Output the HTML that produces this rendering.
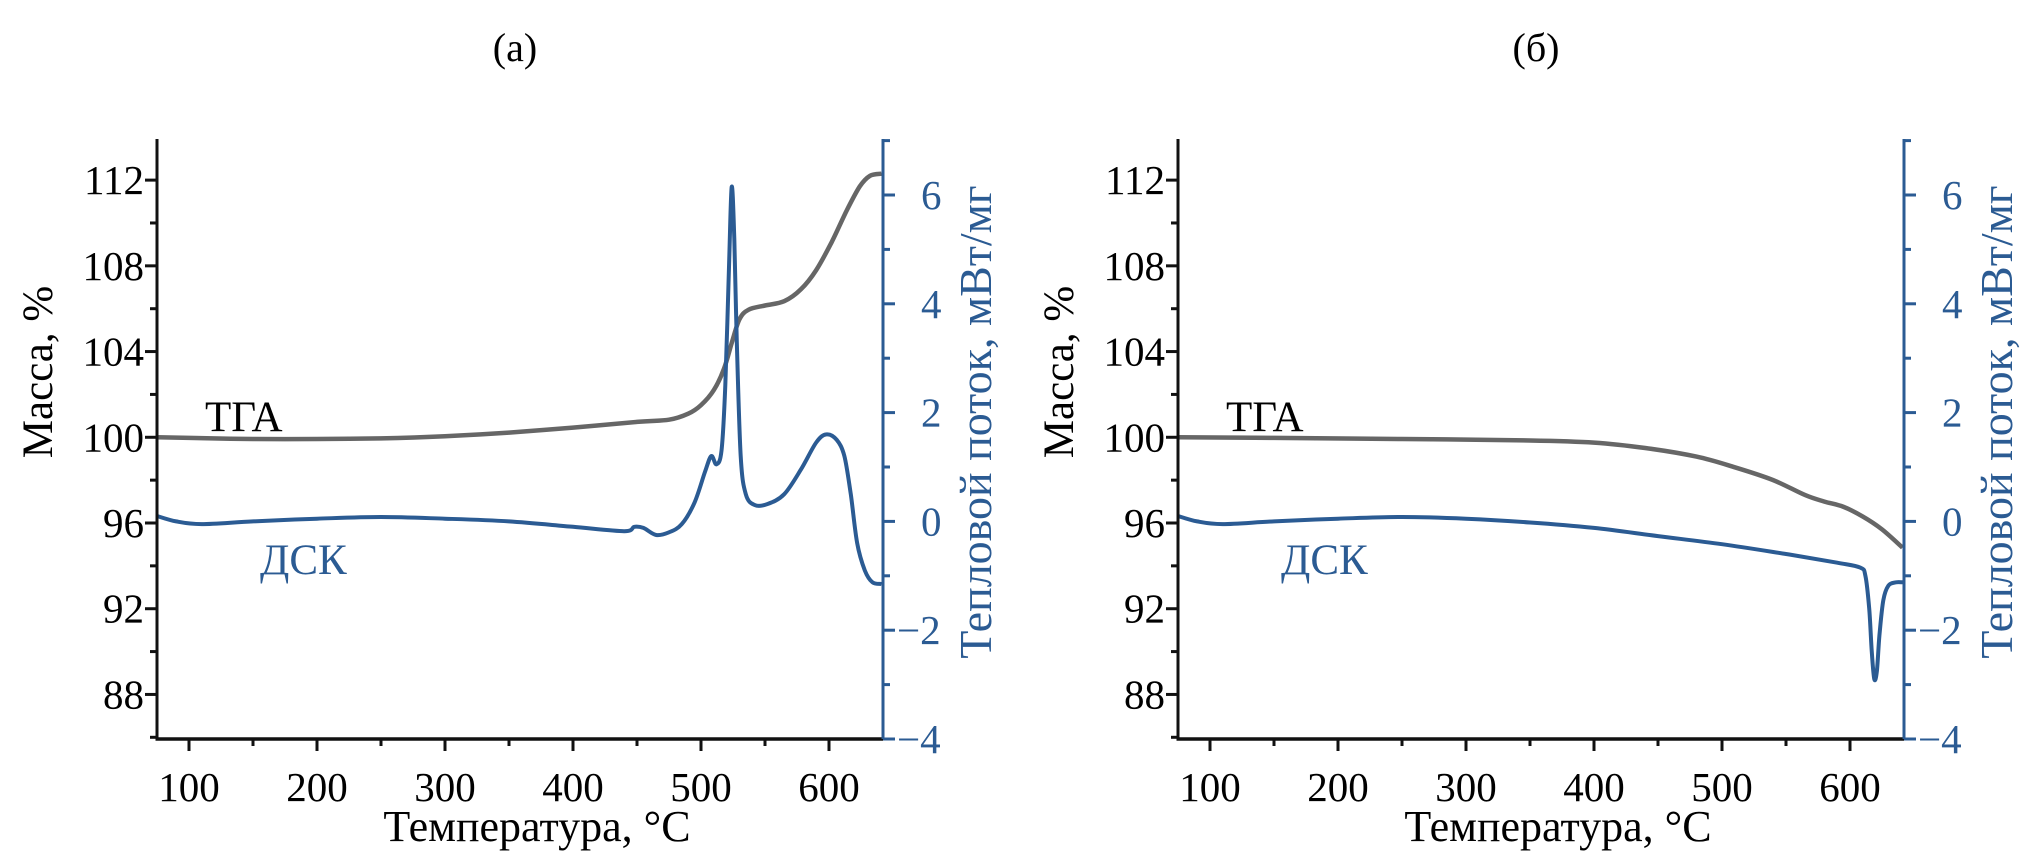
<!DOCTYPE html>
<html><head><meta charset="utf-8">
<style>
html,body{margin:0;padding:0;background:#fff;}
svg{display:block;}
text{font-family:"Liberation Serif",serif;}
</style></head>
<body>
<svg id="s" width="2044" height="863" xmlns="http://www.w3.org/2000/svg"></svg>
<script>
const S=document.getElementById('s');
const NS='http://www.w3.org/2000/svg';
const BLUE='#2b5b93', GRAY='#666666';
function el(t,a,txt){const e=document.createElementNS(NS,t);for(const k in a)e.setAttribute(k,a[k]);if(txt!==undefined)e.textContent=txt;S.appendChild(e);return e;}
function line(x1,y1,x2,y2,c,w){el('line',{x1,y1,x2,y2,stroke:c,'stroke-width':w});}
function smooth(pts){let d='M'+pts[0][0].toFixed(1)+','+pts[0][1].toFixed(1);
 for(let i=0;i<pts.length-1;i++){const p0=pts[i-1]||pts[i],p1=pts[i],p2=pts[i+1],p3=pts[i+2]||p2;
  const c1=[p1[0]+(p2[0]-p0[0])/6,p1[1]+(p2[1]-p0[1])/6],c2=[p2[0]-(p3[0]-p1[0])/6,p2[1]-(p3[1]-p1[1])/6];
  d+=' C'+c1.map(v=>v.toFixed(1))+' '+c2.map(v=>v.toFixed(1))+' '+p2[0].toFixed(1)+','+p2[1].toFixed(1);}
 return d;}
function panel(ox,title,tga,dsc){
 const X0=157+ox, X1=883+ox, YB=739, YT=139;
 const fx=T=>X0+(T-75)*1.28, fy=v=>523-(v-96)*21.43, fd=d=>YB-(d+4)*54.4;
 el('text',{x:(X0+X1)/2-5,y:61,'font-size':40,'text-anchor':'middle'},title);
 el('path',{d:smooth(tga.map(p=>[fx(p[0]),fy(p[1])])),fill:'none',stroke:GRAY,'stroke-width':4.5});
 el('path',{d:smooth(dsc.map(p=>[fx(p[0]),fd(p[1])])),fill:'none',stroke:BLUE,'stroke-width':4});
 line(X0,YT,X0,YB+1.5,'#111',3);
 for(let v=86;v<=114;v+=2){const y=fy(v);if(y<YT-1)continue;const maj=(v%4===0);
  line(X0-(maj?12:7),y,X0,y,'#111',3);
  if(maj&&v>=88)el('text',{x:X0-13,y:y+14,'font-size':41,'text-anchor':'end'},v);}
 line(X0-1.5,YB,X1,YB,'#111',3.5);
 for(let T=100;T<=640;T+=50){const x=fx(T);const maj=T%100===0;line(x,YB,x,YB+(maj?12:7),'#111',3);
  if(maj)el('text',{x:x,y:YB+62,'font-size':41,'text-anchor':'middle'},T);}
 line(X1,YT,X1,YB,BLUE,3);
 for(let d=-4;d<=7;d++){const y=fd(d);const maj=d%2===0;line(X1,y,X1+(maj?12:7),y,BLUE,3);
  if(maj)el('text',{x:d<0?X1+14:X1+38,y:y+14,'font-size':41,fill:BLUE},d<0?'−'+(-d):d);}
 el('text',{x:0,y:0,'font-size':43,'text-anchor':'middle',transform:`translate(${ox+52},372) rotate(-90)`},'Масса, %');
 el('text',{x:0,y:0,'font-size':46,'text-anchor':'middle',fill:BLUE,transform:`translate(${ox+991},422) rotate(-90)`},'Тепловой поток, мВт/мг');
 el('text',{x:ox+537,y:841,'font-size':44,'text-anchor':'middle'},'Температура, °C');
 el('text',{x:ox+205,y:431,'font-size':43},'ТГА');
 el('text',{x:ox+260,y:574,'font-size':43,fill:BLUE},'ДСК');
}
panel(0,'(a)',
 [[75,100],[100,99.97],[150,99.92],[200,99.92],[250,99.95],[300,100.05],[350,100.22],[400,100.45],[450,100.72],[475,100.82],[490,101.1],[500,101.5],[510,102.2],[518,103.2],[524,104.4],[530,105.5],[537,105.95],[550,106.15],[565,106.35],[578,106.9],[590,107.8],[602,109.1],[614,110.6],[624,111.7],[632,112.2],[641,112.3]],
 [[75,0.1],[90,0],[110,-0.05],[150,0],[200,0.05],[250,0.08],[300,0.05],[350,0],[400,-0.1],[440,-0.18],[448,-0.1],[455,-0.12],[465,-0.25],[475,-0.2],[485,-0.05],[495,0.35],[503,0.9],[508,1.2],[512,1.05],[516,1.3],[519,2.5],[522,4.8],[524,6.15],[526,5.2],[528,3.3],[531,1.2],[535,0.5],[542,0.3],[552,0.32],[565,0.5],[578,0.95],[590,1.45],[598,1.6],[606,1.5],[612,1.2],[617,0.5],[622,-0.4],[628,-0.9],[634,-1.12],[641,-1.15]]);
panel(1021,'(б)',
 [[75,100],[150,99.97],[250,99.92],[350,99.85],[400,99.75],[440,99.5],[480,99.1],[510,98.6],[540,98.0],[565,97.3],[580,97.0],[595,96.75],[610,96.3],[625,95.7],[641,94.85]],
 [[75,0.1],[90,0],[110,-0.05],[150,0],[200,0.05],[250,0.08],[300,0.05],[350,-0.02],[400,-0.12],[450,-0.27],[500,-0.42],[550,-0.6],[590,-0.76],[608,-0.85],[612,-1.0],[615,-1.6],[617,-2.4],[619,-2.9],[621,-2.75],[623,-2.1],[626,-1.45],[630,-1.18],[636,-1.12],[641,-1.12]]);
</script>
</body></html>
